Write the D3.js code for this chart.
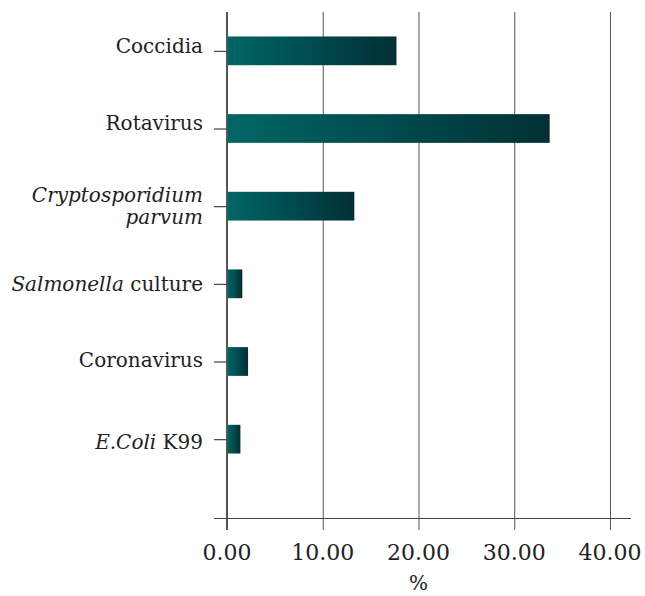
<!DOCTYPE html>
<html>
<head>
<meta charset="utf-8">
<script src="https://cdn.jsdelivr.net/npm/d3@7"></script>
<style>
  body { margin: 0; background: #fff; }
  text { font-family: "DejaVu Serif", "Liberation Serif", serif; fill: #222; }
</style>
</head>
<body>
<svg id="chart" width="645" height="596"></svg>
<script>
// ***************** DATA ********************
var categories = ["Coccidia", "Rotavirus", "Cryptosporidium parvum", "Salmonella culture", "Coronavirus", "E.Coli K99"];
var values = [17.7, 33.7, 13.3, 1.6, 2.2, 1.4];
var tickValues = [0, 10, 20, 30, 40];
// label pieces: [text, italic]
var labelLines = [
	[[["Coccidia", false]]],
	[[["Rotavirus", false]]],
	[[["Cryptosporidium", true]], [["parvum", true]]],
	[[["Salmonella", true], [" culture", false]]],
	[[["Coronavirus", false]]],
	[[["E.Coli", true], [" K99", false]]]
];

var svg = d3.select("#chart");
var margin = {left: 227, top: 12, bottom: 518};

var x = d3.scaleLinear().domain([0, 42.3]).range([margin.left, 632]);
var y = d3.scaleBand().domain(categories).range([12, 478]).paddingInner(0.63).paddingOuter(0.315);

// gradient for bars
var grad = svg.append("defs").append("linearGradient").attr("id", "barGrad");
grad.append("stop").attr("offset", "0%").attr("stop-color", "#006665");
grad.append("stop").attr("offset", "100%").attr("stop-color", "#003036");

// ************** GRID LINES ****************
svg.selectAll(".grid")
	.data(tickValues.slice(1))
	.enter()
	.append("line")
	.classed("grid", true)
	.attr("x1", function(d) { return x(d) + 0.5 })
	.attr("x2", function(d) { return x(d) + 0.5 })
	.attr("y1", margin.top)
	.attr("y2", 530)
	.attr("stroke", "#555")
	.attr("stroke-width", 1)

// ************** BARS ****************
svg.selectAll(".bar")
	.data(values)
	.enter()
	.append("rect")
	.classed("bar", true)
	.attr("x", x(0))
	.attr("y", function(d, i) { return y(categories[i]) })
	.attr("width", function(d) { return x(d) - x(0) })
	.attr("height", y.bandwidth())
	.attr("fill", "url(#barGrad)")

// ************** AXES ****************
// left axis line
svg.append("line")
	.attr("x1", x(0)).attr("x2", x(0))
	.attr("y1", margin.top).attr("y2", 530)
	.attr("stroke", "#555").attr("stroke-width", 2)

// bottom axis line
svg.append("line")
	.attr("x1", 214).attr("x2", 631)
	.attr("y1", margin.bottom + 0.5).attr("y2", margin.bottom + 0.5)
	.attr("stroke", "#444").attr("stroke-width", 1.2)

// left category ticks
svg.selectAll(".ytick")
	.data(categories)
	.enter()
	.append("line")
	.classed("ytick", true)
	.attr("x1", 214).attr("x2", x(0))
	.attr("y1", function(d) { return y(d) + y.bandwidth() / 2 + 0.5 })
	.attr("y2", function(d) { return y(d) + y.bandwidth() / 2 + 0.5 })
	.attr("stroke", "#444").attr("stroke-width", 1.2)

// category labels
var lineGap = 22;
var labelShift = [-5, -6, 0, 0, -2, 3];
svg.selectAll(".ylabel")
	.data(labelLines)
	.enter()
	.append("text")
	.classed("ylabel", true)
	.attr("text-anchor", "end")
	.attr("font-size", "20px")
	.each(function(lines, i) {
		var cy = y(categories[i]) + y.bandwidth() / 2 + labelShift[i];
		var startY = cy - (lines.length - 1) * lineGap / 2;
		var t = d3.select(this);
		lines.forEach(function(parts, j) {
			var first = true;
			parts.forEach(function(p) {
				var ts = t.append("tspan").text(p[0])
					.attr("font-style", p[1] ? "italic" : "normal")
					.style("white-space", "pre");
				if (first) {
					ts.attr("x", 203).attr("y", startY + j * lineGap).attr("dy", ".35em");
					first = false;
				}
			});
		});
	})

// x tick labels
svg.selectAll(".xlabel")
	.data(tickValues)
	.enter()
	.append("text")
	.classed("xlabel", true)
	.attr("x", function(d) { return x(d) })
	.attr("y", 560)
	.attr("text-anchor", "middle")
	.attr("font-size", "22px")
	.text(function(d) { return d3.format(".2f")(d) })

// axis title
svg.append("text")
	.attr("x", x(20))
	.attr("y", 590)
	.attr("text-anchor", "middle")
	.attr("font-size", "20px")
	.text("%")
</script>
</body>
</html>
